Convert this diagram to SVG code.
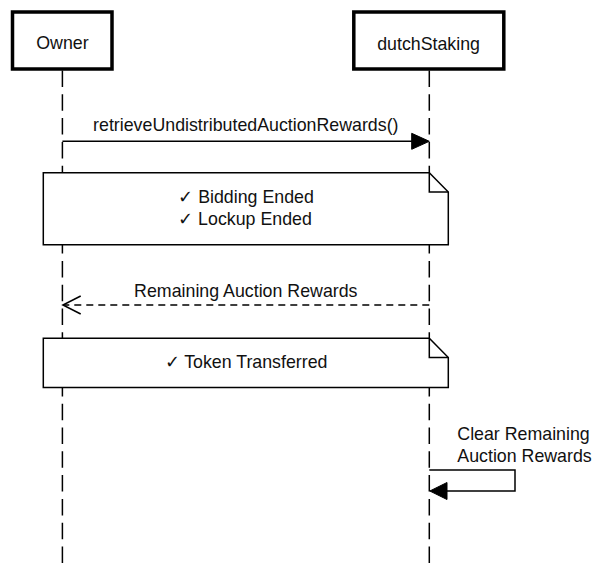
<svg xmlns="http://www.w3.org/2000/svg" width="594" height="563" viewBox="0 0 594 563">
  <style>
    text { font-family: "Liberation Sans", Arial, Helvetica, sans-serif; font-size: 17.8px; fill: #111; }
    .actor { fill: #fff; stroke: #000; stroke-width: 3.5; }
    .life { stroke: #000; stroke-width: 1.5; stroke-dasharray: 16.5 7.3; fill: none; }
    .msg { stroke: #000; stroke-width: 1.5; fill: none; }
    .ret { stroke: #000; stroke-width: 1.5; fill: none; stroke-dasharray: 7 5; }
    .note { fill: #fff; stroke: #000; stroke-width: 1.5; }
    .fold { fill: none; stroke: #000; stroke-width: 1.5; }
    .head { fill: #000; stroke: #000; stroke-width: 1; }
  </style>
  <rect width="594" height="563" fill="#fff"/>
  <g id="lifelines">
    <line class="life" x1="62.4" y1="70.5" x2="62.4" y2="563"/>
    <line class="life" x1="429.3" y1="70.5" x2="429.3" y2="563"/>
  </g>
  <g id="owner">
    <rect class="actor" x="12.5" y="12" width="99.5" height="57"/>
    <text x="62.4" y="49" text-anchor="middle">Owner</text>
  </g>
  <g id="dutchStaking">
    <rect class="actor" x="353.8" y="12" width="150" height="57"/>
    <text x="428.6" y="49.5" text-anchor="middle">dutchStaking</text>
  </g>
  <g id="connectors">
    <g id="msg-retrieve">
      <line class="msg" x1="62.4" y1="141.3" x2="413" y2="141.3"/>
      <polygon class="head" points="429.3,141.3 411.7,133.3 411.7,149.3"/>
      <text x="245.8" y="130.5" text-anchor="middle">retrieveUndistributedAuctionRewards()</text>
    </g>
    <g id="msg-return">
      <line class="ret" x1="429.3" y1="305" x2="63.5" y2="305"/>
      <polyline class="msg" points="80.7,296 62.9,305 80.7,314"/>
      <text x="245.8" y="296.5" text-anchor="middle">Remaining Auction Rewards</text>
    </g>
    <g id="msg-self">
      <polyline class="msg" points="429.3,470 515,470 515,491 446,491"/>
      <polygon class="head" points="429.8,491 447,482.5 447,499.5"/>
      <text x="457.3" y="440">Clear Remaining</text>
      <text x="457.3" y="461.5">Auction Rewards</text>
    </g>
  </g>
  <g id="note1">
    <path class="note" d="M43.3,172.7 H429.3 L448.3,192 V244.7 H43.3 Z"/>
    <path class="fold" d="M429.3,172.7 V192 H448.3"/>
    <text x="246" y="203.3" text-anchor="middle">✓ Bidding Ended</text>
    <text x="245" y="225" text-anchor="middle">✓ Lockup Ended</text>
  </g>
  <g id="note2">
    <path class="note" d="M43.3,338.3 H429.3 L448.3,357.5 V387.5 H43.3 Z"/>
    <path class="fold" d="M429.3,338.3 V357.5 H448.3"/>
    <text x="246" y="368" text-anchor="middle">✓ Token Transferred</text>
  </g>
</svg>
